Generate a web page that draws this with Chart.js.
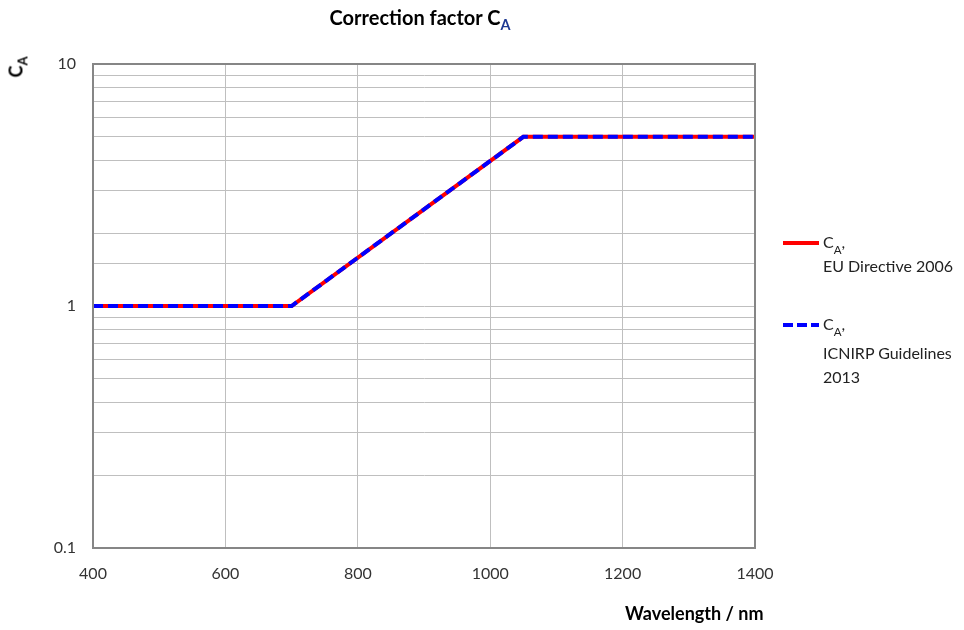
<!DOCTYPE html>
<html>
<head>
<meta charset="utf-8">
<script src="https://cdn.jsdelivr.net/npm/chart.js@4"></script>
<style>
  body { margin: 0; background: #fff; font-family: Lato, "Open Sans", sans-serif; color: #000; }
  #wrap { position: relative; width: 964px; height: 630px; }
  #chart { position: absolute; left: 0; top: 0; }
  .title { position: absolute; left: 240px; width: 360px; top: 5px; text-align: center; font-size: 20px; font-weight: bold; }
  .ytitle { position: absolute; left: 5px; top: 56px; font-size: 18px; font-weight: bold; transform: rotate(-90deg); transform-origin: center; }
  .xtitle { position: absolute; left: 625px; top: 602px; font-size: 18px; font-weight: bold; }
  sub { font-size: 72%; vertical-align: -0.35em; line-height: 0; }
  .leg { position: absolute; left: 823px; font-size: 16px; line-height: 24px; color: #222; }
  .leg sub { vertical-align: -0.5em; }
  .sw { position: absolute; left: 783px; width: 36px; height: 0; }
  .dash { position: absolute; left: 783px; width: 10px; height: 4px; background: #0000ff; }
</style>
</head>
<body>
<div id="wrap">
  <canvas id="chart" width="964" height="630"></canvas>
  <div class="title">Correction factor C<sub style="color:#1f3a93">A</sub></div>
  <div class="ytitle">C<sub>A</sub></div>
  <div class="xtitle">Wavelength / nm</div>
  <div class="sw" style="top:241px; border-top:4px solid #ff0000;"></div>
  <div class="leg" style="top:230px;">C<sub>A</sub>,<br>EU Directive 2006</div>
  <div class="dash" style="top:323px; left:783px;"></div>
  <div class="dash" style="top:323px; left:797px;"></div>
  <div class="dash" style="top:323px; left:811px; width:8px;"></div>
  <div class="leg" style="top:312px;">C<sub>A</sub>,<br><span style="display:inline-block; margin-top:5px;">ICNIRP Guidelines</span><br>2013</div>
</div>
<script>
// wavelength in nm
const wavelengths = [400, 700, 1050, 1400];
const euDirective2006 = [1, 1, 5, 5];
const icnirp2013 = [1, 1, 5, 5];
const yTickLabels = [0.1, 1, 10];

const toPoints = (xs, ys) => xs.map((x, i) => ({ x: x, y: ys[i] }));

new Chart(document.getElementById('chart'), {
    type: 'line',
    data: {
        datasets: [
            {
                label: 'EU Directive 2006',
                data: toPoints(wavelengths, euDirective2006),
                borderColor: '#ff0000',
                borderWidth: 4,
                pointRadius: 0,
                tension: 0,
                order: 2
            },
            {
                label: 'ICNIRP Guidelines 2013',
                data: toPoints(wavelengths, icnirp2013),
                borderColor: '#0000ff',
                borderWidth: 4,
                borderDash: [10, 5],
                pointRadius: 0,
                tension: 0,
                order: 1
            }
        ]
    },
    options: {
        responsive: false,
        animation: false,
        layout: { padding: { left: 0, right: 209, top: 64, bottom: 42 } },
        plugins: { legend: { display: false }, tooltip: { enabled: false } },
        scales: {
            x: {
                type: 'linear',
                min: 400,
                max: 1400,
                ticks: {
                    stepSize: 200,
                    padding: 16,
                    color: '#333',
                    font: { family: 'Lato', size: 16 },
                    callback: v => String(v)
                },
                grid: { color: '#bfbfbf', lineWidth: 1, drawTicks: false },
                border: { color: '#868686', width: 2 },
                afterFit: axis => { axis.height = 40; }
            },
            y: {
                type: 'logarithmic',
                min: 0.1,
                max: 10,
                ticks: {
                    autoSkip: false,
                    padding: 17,
                    color: '#333',
                    font: { family: 'Lato', size: 16 },
                    callback: v => yTickLabels.includes(Number(v.toPrecision(3))) ? String(Number(v.toPrecision(3))) : ''
                },
                grid: { color: '#bfbfbf', lineWidth: 1, drawTicks: false },
                border: { color: '#868686', width: 2 },
                afterFit: axis => { axis.width = 93; }
            }
        }
    },
    plugins: [{
        id: 'frame',
        afterDraw(chart) {
            const { ctx, chartArea: a } = chart;
            ctx.save();
            ctx.strokeStyle = '#868686';
            ctx.lineWidth = 2;
            ctx.strokeRect(a.left, a.top, a.right - a.left, a.bottom - a.top);
            ctx.restore();
        }
    }]
});
</script>
</body>
</html>
